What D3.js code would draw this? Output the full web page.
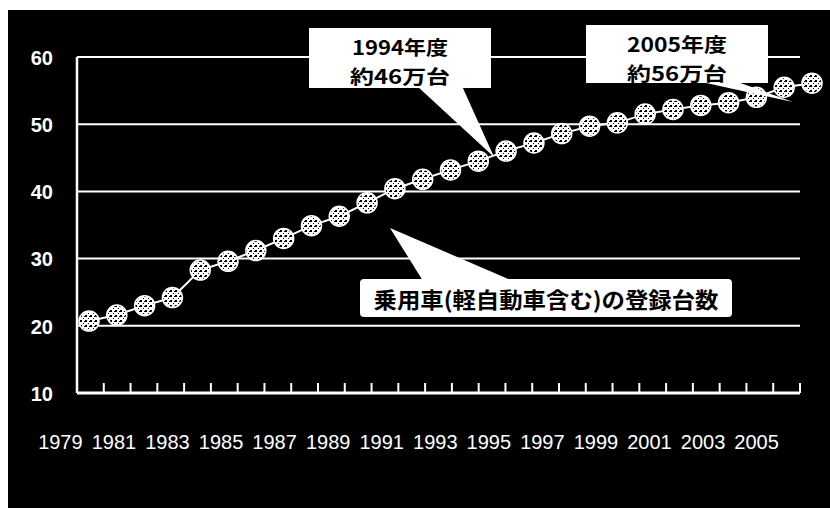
<!DOCTYPE html>
<html><head><meta charset="utf-8">
<script src="https://cdn.jsdelivr.net/npm/d3@7"></script>
<style>body{margin:0;background:#fff;} svg{display:block;}</style>
</head><body>
<script>
const years = [1979,1980,1981,1982,1983,1984,1985,1986,1987,1988,1989,1990,1991,1992,1993,1994,1995,1996,1997,1998,1999,2000,2001,2002,2003,2004,2005];
const values = [20.7,21.6,23.0,24.2,28.3,29.6,31.2,33.0,34.9,36.3,38.3,40.4,41.8,43.2,44.5,46.0,47.2,48.6,49.7,50.2,51.5,52.2,52.8,53.2,54.0,55.5,56.1];
const yTicks = [10,20,30,40,50,60];
const gridValues = [20,30,40,50,60];
const xLabelYears = [1979,1981,1983,1985,1987,1989,1991,1993,1995,1997,1999,2001,2003,2005];
const callout1 = ["1994年度","約46万台"];
const callout2 = ["2005年度","約56万台"];
const callout3 = "乗用車(軽自動車含む)の登録台数";

const W = 830, H = 508;
const svg = d3.select("body").append("svg").attr("width", W).attr("height", H);

const defs = svg.append("defs");
const pat = defs.append("pattern").attr("id","speck").attr("width",5).attr("height",5).attr("patternUnits","userSpaceOnUse");
pat.append("rect").attr("width",5).attr("height",5).attr("fill","#fff");
pat.append("rect").attr("x",0).attr("y",0).attr("width",2).attr("height",2).attr("fill","#000");
pat.append("rect").attr("x",3).attr("y",3).attr("width",1).attr("height",1).attr("fill","#000");
pat.append("rect").attr("x",4).attr("y",1).attr("width",1).attr("height",1).attr("fill","#000");

svg.append("rect").attr("width", W).attr("height", H).attr("fill", "#fff");
svg.append("rect").attr("x", 8).attr("y", 10).attr("width", W - 8).attr("height", H - 10).attr("fill", "#000");

const xBand = d3.scaleBand().domain(years).range([77, 800]).padding(0);
const xPt = d3.scalePoint().domain(years).range([89, 812]);
const y = d3.scaleLinear().domain([10, 60]).range([393, 57]);

// gridlines
svg.append("g").selectAll("line").data(gridValues).join("line")
  .attr("x1", 77).attr("x2", 800)
  .attr("y1", d => y(d)).attr("y2", d => y(d))
  .attr("stroke", "#fff").attr("stroke-width", 2);

// y axis
const yAxis = svg.append("g").attr("transform", "translate(77,0)")
  .call(d3.axisLeft(y).tickValues(yTicks).tickSize(0).tickPadding(24));
yAxis.select(".domain").remove();
yAxis.selectAll("text").attr("fill", "#fff").attr("font-family", "Liberation Sans, Arial, sans-serif")
  .attr("font-size", 20).attr("font-weight", "bold").attr("dy", "0.36em");
svg.append("line").attr("x1", 77).attr("x2", 77).attr("y1", y(60)).attr("y2", y(10))
  .attr("stroke", "#fff").attr("stroke-width", 2.5);

// x axis (line + ticks at band boundaries)
svg.append("line").attr("x1", 77).attr("x2", 800).attr("y1", y(10)).attr("y2", y(10))
  .attr("stroke", "#fff").attr("stroke-width", 3);
svg.append("g").selectAll("line").data(years).join("line")
  .attr("x1", d => xBand(d) + xBand.bandwidth()).attr("x2", d => xBand(d) + xBand.bandwidth())
  .attr("y1", y(10)).attr("y2", y(10) - 10)
  .attr("stroke", "#fff").attr("stroke-width", 2);
// year labels (every other year)
svg.append("g").selectAll("text").data(xLabelYears).join("text")
  .attr("x", d => xBand(d) + xBand.bandwidth() / 2 - 30)
  .attr("y", y(10) + 56)
  .attr("text-anchor", "middle").attr("fill", "#fff")
  .attr("font-family", "Liberation Sans, Arial, sans-serif").attr("font-size", 20)
  .text(d => d);

// series
const data = years.map((yr, i) => ({year: yr, v: values[i]}));
svg.append("path").datum(data)
  .attr("d", d3.line().x(d => xPt(d.year)).y(d => y(d.v)))
  .attr("fill", "none").attr("stroke", "#fff").attr("stroke-width", 2);
svg.append("g").selectAll("circle").data(data).join("circle")
  .attr("cx", d => xPt(d.year)).attr("cy", d => y(d.v)).attr("r", 10)
  .attr("fill", "url(#speck)").attr("stroke", "#fff").attr("stroke-width", 1.5);

// callouts
const cjk = "'Noto Sans CJK JP', 'Noto Sans', sans-serif";
function callout(box, pointer, lines, lineYs, rx, fs, lens) {
  const g = svg.append("g");
  g.append("polygon").attr("points", pointer.map(p => p.join(",")).join(" ")).attr("fill", "#fff");
  g.append("rect").attr("x", box[0]).attr("y", box[1]).attr("width", box[2]).attr("height", box[3])
    .attr("rx", rx).attr("fill", "#fff");
  lines.forEach((t, i) => {
    g.append("text").attr("x", box[0] + box[2] / 2).attr("y", lineYs[i])
      .attr("text-anchor", "middle").attr("dominant-baseline", "central")
      .attr("font-family", cjk).attr("font-weight", "bold").attr("font-size", fs)
      .attr("textLength", lens[i]).attr("lengthAdjust", "spacingAndGlyphs")
      .attr("fill", "#000").text(t);
  });
  return g;
}
callout([309, 28, 182, 60], [[417, 86], [462, 86], [494, 157]], callout1, [46, 75], 0, 19.5, [96, 100]);
callout([586, 25, 182, 58], [[697, 81], [735, 81], [793, 102]], callout2, [43, 72], 0, 19.5, [100, 100]);
callout([360, 279, 372, 38], [[390, 228], [423, 281], [513, 281]], [callout3], [298], 4, 22, [345]);
</script>
</body></html>
